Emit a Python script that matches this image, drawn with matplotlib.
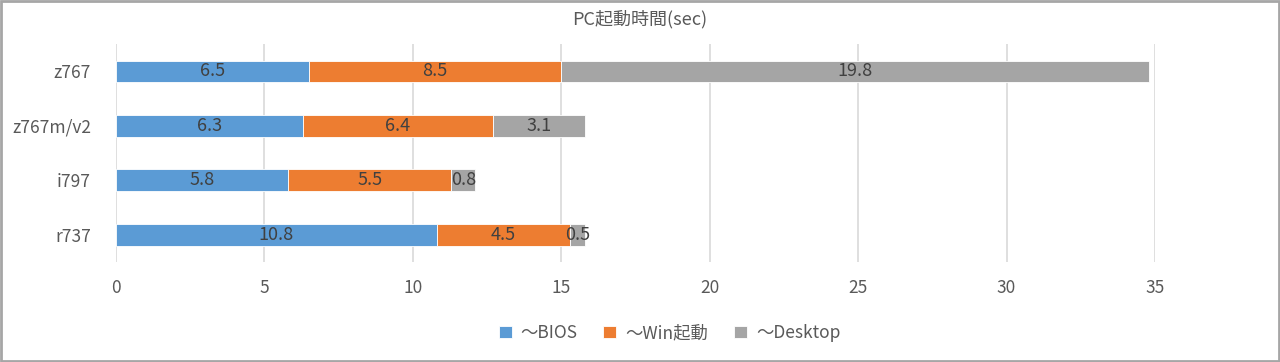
import numpy as np
import matplotlib
matplotlib.use('Agg')
from matplotlib import pyplot as plt
from matplotlib.patches import Rectangle

plt.rcParams['font.family'] = ['Noto Sans CJK JP', 'DejaVu Sans']

# data
models = ['z767', 'z767m/v2', 'i797', 'r737']
bios = [6.5, 6.3, 5.8, 10.8]
win = [8.5, 6.4, 5.5, 4.5]
desktop = [19.8, 3.1, 0.8, 0.5]
series_names = ['～BIOS', '～Win起動', '～Desktop']
colors = ['#5B9BD5', '#ED7D31', '#A5A5A5']

text_col = '#595959'

fig = plt.figure(figsize=(12.8, 3.62), dpi=100)
ax = fig.add_axes([0.0906, 0.276, 0.8117, 0.602])

y = np.arange(len(models))[::-1]
left = np.zeros(len(models))
handles = []
for vals, name, c in zip([bios, win, desktop], series_names, colors):
    bars = ax.barh(y, vals, left=left, height=0.4, color=c,
                   edgecolor='white', linewidth=0.6, label=name, zorder=3)
    handles.append(bars)
    for yi, l, v in zip(y, left, vals):
        ax.text(l + v / 2, yi, '{}'.format(v), ha='center', va='center',
                fontsize=13, color='#404040', zorder=4)
    left = left + np.array(vals)

ax.set_xlim(0, 35)
ax.set_ylim(-0.5, len(models) - 0.5)
ax.set_xticks(np.arange(0, 36, 5))
ax.set_yticks(y)
ax.set_yticklabels(models)
ax.tick_params(axis='both', length=0, labelsize=12.5, colors=text_col)
ax.tick_params(axis='x', pad=12)
ax.tick_params(axis='y', pad=18)
ax.grid(axis='x', color='#D9D9D9', linewidth=1.2, zorder=0)
for s in ax.spines.values():
    s.set_visible(False)

fig.text(0.5, 0.948, 'PC起動時間(sec)', ha='center', va='center',
         fontsize=13, color=text_col)

fig.legend(handles=handles, labels=series_names, loc='center',
           bbox_to_anchor=(0.523, 0.08), ncol=3, frameon=False,
           fontsize=12.5, labelcolor=text_col, handlelength=0.75,
           handleheight=0.75, handletextpad=0.5, columnspacing=1.5)

fig.patches.append(Rectangle((0.001, 0.002), 0.998, 0.996,
                             transform=fig.transFigure, fill=False,
                             edgecolor='#A6A6A6', linewidth=2))

fig.savefig('out.png', dpi=100)
